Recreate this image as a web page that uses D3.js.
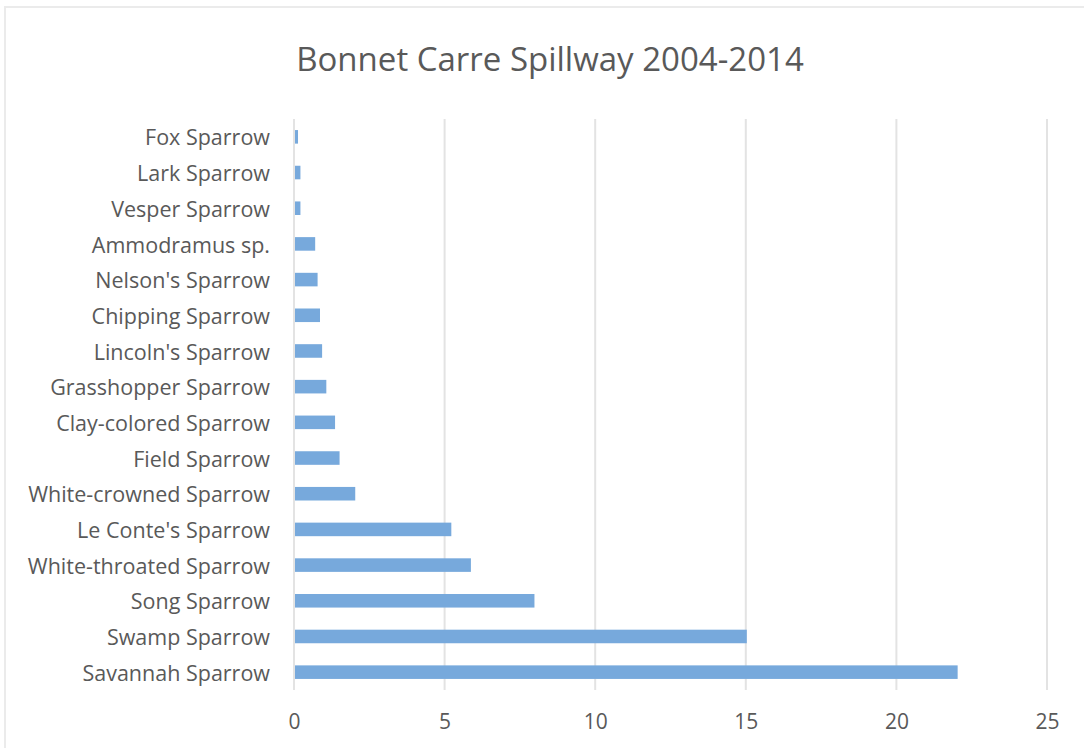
<!DOCTYPE html>
<html>
<head>
<meta charset="utf-8">
<script src="https://cdn.jsdelivr.net/npm/d3@7"></script>
<style>
  body { margin: 0; background: #fff; }
  text { font-family: 'Open Sans', sans-serif; fill: #595959; }
</style>
</head>
<body>
<div id="bar-vis"></div>
<script>
// sparrow counts, top of chart first
const species = [
    'Fox Sparrow', 'Lark Sparrow', 'Vesper Sparrow', 'Ammodramus sp.',
    "Nelson's Sparrow", 'Chipping Sparrow', "Lincoln's Sparrow", 'Grasshopper Sparrow',
    'Clay-colored Sparrow', 'Field Sparrow', 'White-crowned Sparrow', "Le Conte's Sparrow",
    'White-throated Sparrow', 'Song Sparrow', 'Swamp Sparrow', 'Savannah Sparrow',
];
const counts = [0.1, 0.18, 0.18, 0.67, 0.75, 0.83, 0.9, 1.04, 1.33, 1.48, 2, 5.19, 5.84, 7.95, 15, 22];
const xTicks = [0, 5, 10, 15, 20, 25];
const title = 'Bonnet Carre Spillway 2004-2014';

const width = 1084;
const height = 748;
const margins = { top: 119, right: 37, bottom: 58, left: 294 };
const visWidth = width - margins.left - margins.right;
const visHeight = height - margins.top - margins.bottom;

const svg = d3.select('#bar-vis').append('svg')
    .attr('width', width)
    .attr('height', height);

// faint frame on the left and top
svg.append('path')
    .attr('d', `M5,${height} V7 H${width}`)
    .attr('fill', 'none')
    .attr('stroke', '#ebebeb')
    .attr('stroke-width', 2);

svg.append('text').text(title)
    .attr('x', 550)
    .attr('y', 71)
    .attr('text-anchor', 'middle')
    .style('font-size', '33px');

const viewport = svg.append('g')
    .attr('transform', `translate(${margins.left},${margins.top})`);

const x = d3.scaleLinear()
    .domain([0, 25])
    .range([0, visWidth]);

const y = d3.scaleBand()
    .domain(species)
    .range([0, visHeight])
    .paddingInner(0.62)
    .paddingOuter(0.31);

// gridlines
viewport.append('g')
    .selectAll('line')
    .data(xTicks)
    .enter()
    .append('line')
    .attr('x1', d => x(d))
    .attr('x2', d => x(d))
    .attr('y1', 0)
    .attr('y2', visHeight)
    .attr('stroke', '#e3e3e3')
    .attr('stroke-width', 2);

viewport.selectAll('rect')
    .data(counts)
    .enter()
    .append('rect')
    .attr('x', x(0) + 1)
    .attr('y', (d, i) => y(species[i]))
    .attr('width', d => x(d) - x(0))
    .attr('height', y.bandwidth())
    .attr('fill', '#77a9dc');

const xAxis = viewport.append('g')
    .attr('transform', `translate(0,${visHeight})`)
    .call(d3.axisBottom(x).tickValues(xTicks).tickSize(0).tickPadding(24));
xAxis.select('.domain').remove();
xAxis.selectAll('text')
    .style('font-size', '21px')
    .attr('fill', '#595959');

const yAxis = viewport.append('g')
    .call(d3.axisLeft(y).tickSize(0).tickPadding(24));
yAxis.select('.domain').remove();
yAxis.selectAll('text')
    .style('font-size', '21.5px')
    .attr('dy', '0.4em')
    .attr('fill', '#595959');
</script>
</body>
</html>
